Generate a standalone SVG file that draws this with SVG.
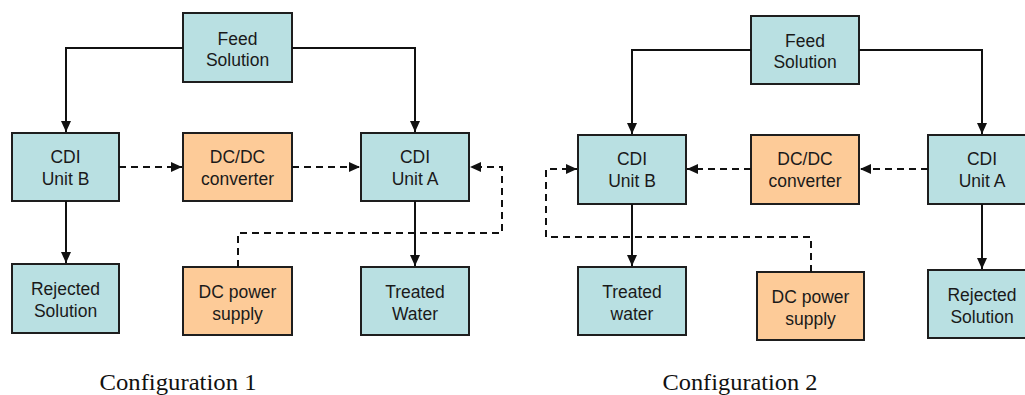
<svg xmlns="http://www.w3.org/2000/svg" width="1025" height="395" viewBox="0 0 1025 395">
  <style>
    .box { stroke: #1e1e1e; stroke-width: 2; }
    .water { fill: #b9e0e2; }
    .power { fill: #fdcb98; }
    .lbl { font-family: "Liberation Sans", Arial, sans-serif; font-size: 17.5px; fill: #1a1a1a; text-anchor: middle; }
    .cap { font-family: "Liberation Serif", "Times New Roman", serif; font-size: 24px; fill: #111; text-anchor: middle; }
    .flow { fill: none; stroke: #111; stroke-width: 2; }
    .elec { fill: none; stroke: #111; stroke-width: 2; stroke-dasharray: 7 5; }
  </style>
  <defs>
    <marker id="arrow" markerUnits="userSpaceOnUse" markerWidth="12" markerHeight="12" viewBox="0 0 12 12" refX="11" refY="6" orient="auto">
      <path d="M0,1 L11,6 L0,11 Z" fill="#111" stroke="none"/>
    </marker>
  </defs>
  <rect width="1025" height="395" fill="#ffffff"/>

  <!-- Configuration 1 -->
  <g id="c1-feed">
    <rect class="box water" x="183" y="13" width="109" height="69"/>
    <text class="lbl" x="237.5" y="45">Feed<tspan x="237.5" y="66">Solution</tspan></text>
  </g>
  <g id="c1-cdi-b">
    <rect class="box water" x="12" y="133" width="107" height="68"/>
    <text class="lbl" x="65.5" y="163">CDI<tspan x="65.5" y="185">Unit B</tspan></text>
  </g>
  <g id="c1-dcdc">
    <rect class="box power" x="183" y="133" width="109" height="68"/>
    <text class="lbl" x="237.5" y="163">DC/DC<tspan x="237.5" y="185">converter</tspan></text>
  </g>
  <g id="c1-cdi-a">
    <rect class="box water" x="361" y="133" width="108" height="68"/>
    <text class="lbl" x="415" y="163">CDI<tspan x="415" y="185">Unit A</tspan></text>
  </g>
  <g id="c1-rejected">
    <rect class="box water" x="12" y="264" width="107" height="69"/>
    <text class="lbl" x="65.5" y="295">Rejected<tspan x="65.5" y="317">Solution</tspan></text>
  </g>
  <g id="c1-dc-power">
    <rect class="box power" x="183" y="267" width="109" height="68"/>
    <text class="lbl" x="237.5" y="298">DC power<tspan x="237.5" y="320">supply</tspan></text>
  </g>
  <g id="c1-treated">
    <rect class="box water" x="361" y="267" width="108" height="68"/>
    <text class="lbl" x="415" y="298">Treated<tspan x="415" y="320">Water</tspan></text>
  </g>
  <text id="c1-caption" class="cap" x="178" y="390" textLength="157" lengthAdjust="spacingAndGlyphs">Configuration 1</text>

  <!-- Configuration 2 -->
  <g id="c2-feed">
    <rect class="box water" x="751" y="16" width="108" height="68"/>
    <text class="lbl" x="805" y="47">Feed<tspan x="805" y="68">Solution</tspan></text>
  </g>
  <g id="c2-cdi-b">
    <rect class="box water" x="578" y="135" width="108" height="69"/>
    <text class="lbl" x="632" y="165">CDI<tspan x="632" y="187">Unit B</tspan></text>
  </g>
  <g id="c2-dcdc">
    <rect class="box power" x="751" y="135" width="108" height="69"/>
    <text class="lbl" x="805" y="165">DC/DC<tspan x="805" y="187">converter</tspan></text>
  </g>
  <g id="c2-cdi-a">
    <rect class="box water" x="928" y="135" width="108" height="69"/>
    <text class="lbl" x="982" y="165">CDI<tspan x="982" y="187">Unit A</tspan></text>
  </g>
  <g id="c2-treated">
    <rect class="box water" x="578" y="267" width="108" height="68"/>
    <text class="lbl" x="632" y="298">Treated<tspan x="632" y="320">water</tspan></text>
  </g>
  <g id="c2-dc-power">
    <rect class="box power" x="757" y="272" width="107" height="68"/>
    <text class="lbl" x="810.5" y="303">DC power<tspan x="810.5" y="325">supply</tspan></text>
  </g>
  <g id="c2-rejected">
    <rect class="box water" x="928" y="270" width="108" height="68"/>
    <text class="lbl" x="982" y="301">Rejected<tspan x="982" y="323">Solution</tspan></text>
  </g>
  <text id="c2-caption" class="cap" x="740" y="390" textLength="155" lengthAdjust="spacingAndGlyphs">Configuration 2</text>

  <g id="connectors">
    <!-- configuration 1: solution flow -->
    <path class="flow" d="M183,48 H66 V132" marker-end="url(#arrow)"/>
    <path class="flow" d="M292,48 H415 V132" marker-end="url(#arrow)"/>
    <path class="flow" d="M66,201 V263" marker-end="url(#arrow)"/>
    <path class="flow" d="M415,201 V266" marker-end="url(#arrow)"/>
    <!-- configuration 1: electrical links -->
    <path class="elec" d="M119,167 H182" marker-end="url(#arrow)"/>
    <path class="elec" d="M292,167 H360" marker-end="url(#arrow)"/>
    <path class="elec" d="M238,267 V233 H502 V167 H470" marker-end="url(#arrow)"/>

    <!-- configuration 2: solution flow -->
    <path class="flow" d="M751,50 H632 V134" marker-end="url(#arrow)"/>
    <path class="flow" d="M859,50 H982 V134" marker-end="url(#arrow)"/>
    <path class="flow" d="M632,204 V266" marker-end="url(#arrow)"/>
    <path class="flow" d="M982,204 V269" marker-end="url(#arrow)"/>
    <!-- configuration 2: electrical links -->
    <path class="elec" d="M928,169 H860" marker-end="url(#arrow)"/>
    <path class="elec" d="M751,169 H687" marker-end="url(#arrow)"/>
    <path class="elec" d="M811,272 V237 H546 V169 H577" marker-end="url(#arrow)"/>
  </g>
</svg>
